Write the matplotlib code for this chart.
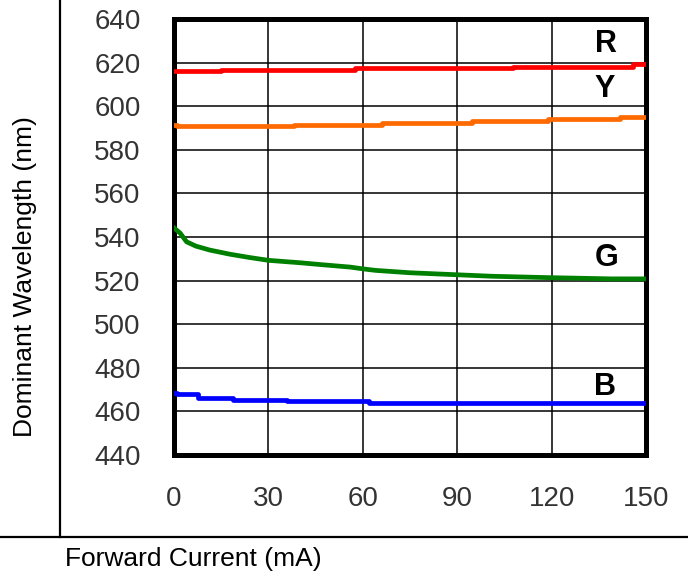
import matplotlib
matplotlib.use("Agg")
import matplotlib.pyplot as plt
from matplotlib.lines import Line2D
from matplotlib.patches import Rectangle

plt.rcParams["font.family"] = ["Liberation Sans", "DejaVu Sans"]

# forward current (mA) vs dominant wavelength (nm)
red_current = [0, 15, 57.5, 107.6, 146, 150]
red_wl = [616.0, 616.8, 617.5, 618.2, 619.3, 619.3]

yellow_current = [0, 1, 38, 66, 94.6, 119, 141.6, 150]
yellow_wl = [591.2, 590.7, 591.6, 592.2, 593.1, 594.1, 594.9, 594.9]

green_current = [0, 2, 4, 7, 11.4, 17.8, 24, 30, 40, 47, 56, 60, 64,
                 75, 88, 101, 118, 139, 150]
green_wl = [544.2, 541.7, 537.8, 535.8, 534.0, 532.1, 530.6, 529.3, 528.2,
            527.3, 526.2, 525.4, 524.7, 523.6, 522.8, 522.0, 521.4, 520.8,
            520.8]

blue_current = [0, 1, 7.6, 18.7, 35.8, 62, 150]
blue_wl = [468.3, 468.0, 466.2, 465.4, 464.6, 463.9, 463.9]

x_ticks = [0, 30, 60, 90, 120, 150]
y_ticks = [440, 460, 480, 500, 520, 540, 560, 580, 600, 620, 640]

labels = ["R", "Y", "G", "B"]
label_x = [137.3, 137.0, 137.6, 137.0]
label_y = [628.4, 607.9, 530.5, 471.1]

fig = plt.figure(figsize=(6.88, 5.78), dpi=100)
ax = fig.add_axes([0.2529, 0.2128, 0.686, 0.7543])

ax.plot(red_current, red_wl, color="#ff0000", lw=3.4, drawstyle="steps-post",
        zorder=3)
ax.plot(yellow_current, yellow_wl, color="#ff6a00", lw=3.4,
        drawstyle="steps-post", zorder=3)
ax.plot(green_current, green_wl, color="#008000", lw=3.4, zorder=3)
ax.plot(blue_current, blue_wl, color="#0000ff", lw=3.4, drawstyle="steps-post",
        zorder=3)

for t, x, y in zip(labels, label_x, label_y):
    ax.text(x, y, t, ha="center", va="center", fontsize=22, weight="bold",
            color="black", zorder=4)

ax.set_xlim(0, 150)
ax.set_ylim(440, 640)
ax.set_xticks(x_ticks)
ax.set_yticks(y_ticks)
ax.grid(True, color="black", lw=1.1, zorder=1)
ax.set_axisbelow(True)
ax.tick_params(length=0, labelsize=20, labelcolor="#333333")
ax.tick_params(axis="y", pad=24)
ax.tick_params(axis="x", pad=22)
for s in ax.spines.values():
    s.set_linewidth(3.6)
    s.set_color("black")

fig.text(0.0363, 0.5216, "Dominant Wavelength (nm)", rotation=90,
         ha="center", va="center", fontsize=19, color="black")
fig.text(0.0945, 0.0208, "Forward Current (mA)", ha="left", va="baseline",
         fontsize=19, color="black")

# frame lines around the chart cell
fig.add_artist(Line2D([0.0872, 0.0872], [0.0709, 1.0], color="black", lw=1.6,
                      transform=fig.transFigure))
fig.add_artist(Line2D([0.0, 1.0], [0.0709, 0.0709], color="black", lw=1.6,
                      transform=fig.transFigure))
# right edge clips the last tick label
fig.add_artist(Rectangle((668 / 688, 0.09), 1.0, 0.1, color="white",
                         transform=fig.transFigure, zorder=10))

fig.savefig("out.png", dpi=100)
